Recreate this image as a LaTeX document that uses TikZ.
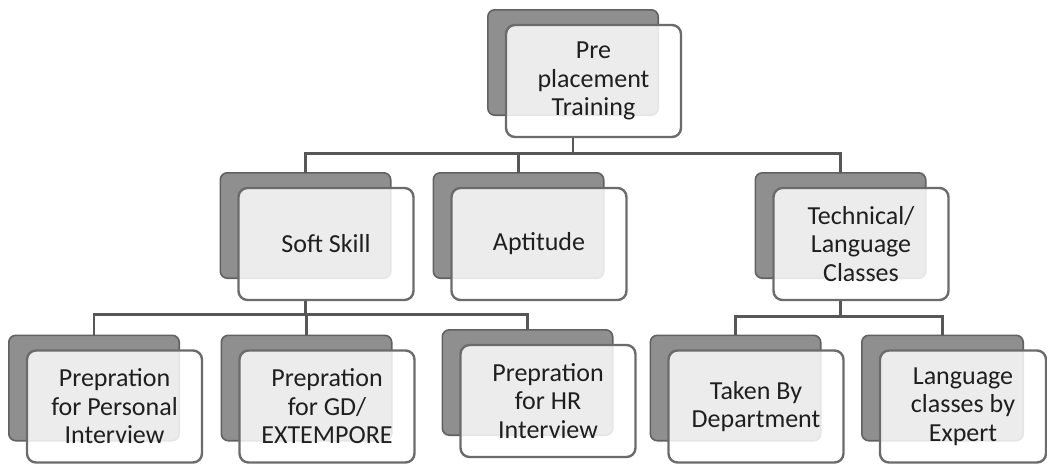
\documentclass[tikz,border=0pt]{standalone}
\usepackage{fontspec}
\setmainfont{Carlito}
\usetikzlibrary{backgrounds}
\begin{document}
\begin{tikzpicture}[x=1pt,y=-1pt,
  box/.style={draw=black!58, line width=2.4pt, rounded corners=9pt, fill=white, fill opacity=0.84, text opacity=1,
    minimum width=175pt, minimum height=112pt, text width=168pt, align=flush center, inner sep=0pt,
    font=\fontsize{26}{28.5}\selectfont, text=black!88},
  shadebox/.style={draw=black!62, line width=1.6pt, fill=black!44, rounded corners=7pt},
  link/.style={draw=black!66, line width=2.6pt}]
\useasboundingbox (0,0) rectangle (1047,466);
\node[box] (top)  at (593.5,81)  {Pre\\placement\\Training};
\node[box] (soft) at (326,244)   {Soft Skill};
\node[box] (apt)  at (539,244)   {Aptitude};
\node[box] (tech) at (861,244)   {Technical/\\Language\\Classes};
\node[box] (pers) at (114.5,406.5) {Prepration\\for Personal\\Interview};
\node[box] (gd)   at (327,406.5) {Prepration\\for GD/\\EXTEMPORE};
\node[box] (hr)   at (548,401)   {Prepration\\for HR\\Interview};
\node[box] (dept) at (756,406.5) {Taken By\\Department};
\node[box, minimum width=166pt, text width=160pt] (lang) at (963,406.5) {Language\\classes by\\Expert};
\begin{scope}[on background layer]
  \foreach \n in {top,soft,apt,tech,pers,gd,hr,dept,lang}{
    \path[shadebox] ([shift={(-17,-14)}]\n.north west) rectangle ([shift={(-24,-23)}]\n.south east);
    \coordinate (\n-in) at ([shift={(-20.5,-14)}]\n.north);
    \coordinate (\n-out) at ([shift={(-20.5,0)}]\n.south);
  }
  \draw[link] (top-out) -- ++(0,15) coordinate (h1);
  \draw[link] (soft-in) |- (h1) -| (tech-in);
  \draw[link] (h1 -| apt-in) -- (apt-in);
  \draw[link] (soft-out) -- ++(0,13) coordinate (h2);
  \draw[link] (pers-in) |- (h2) -| (hr-in);
  \draw[link] (h2 -| gd-in) -- (gd-in);
  \draw[link] (tech-out) -- ++(0,15) coordinate (h3);
  \draw[link] (dept-in) |- (h3) -| (lang-in);
\end{scope}
\end{tikzpicture}
\end{document}
